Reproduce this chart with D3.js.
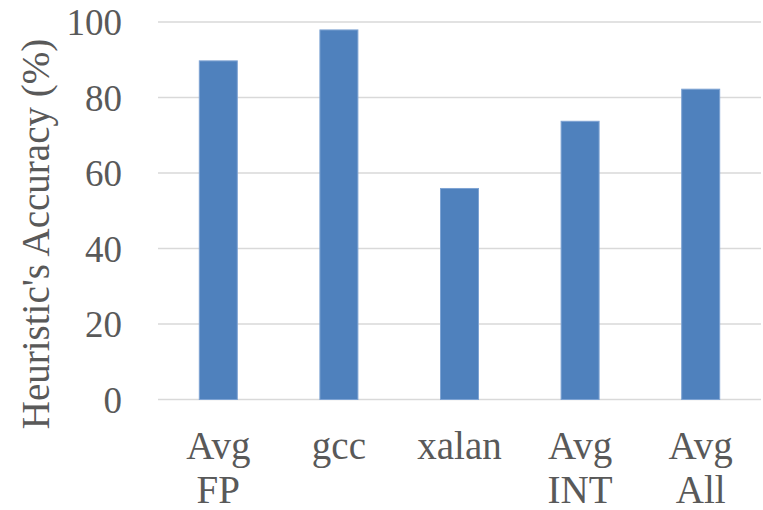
<!DOCTYPE html>
<html>
<head>
<meta charset="utf-8">
<script src="https://cdn.jsdelivr.net/npm/d3@7"></script>
<style>
  html, body { margin: 0; padding: 0; background: #fff; }
  svg { display: block; }
  text { font-family: "Liberation Serif", "Times New Roman", serif; fill: #595959; }
</style>
</head>
<body>
<svg id="chart" width="763" height="510"></svg>
<script>
// Heuristic accuracy per benchmark group
const categories = [["Avg", "FP"], ["gcc"], ["xalan"], ["Avg", "INT"], ["Avg", "All"]];
const accuracy = [89.7, 97.9, 55.9, 73.7, 82.2];
const yTicks = [0, 20, 40, 60, 80, 100];
const yLabel = "Heuristic's Accuracy (%)";

const svg = d3.select("#chart");
const plot = { left: 158, right: 761, top: 22, bottom: 399.5 };
const tickFont = 37;
const labelFont = 39;

const keys = categories.map(c => c.join(" "));

const x = d3.scaleBand()
  .domain(keys)
  .range([plot.left, plot.right])
  .paddingInner(0.685)
  .paddingOuter(0.3425);

const y = d3.scaleLinear().domain([0, 100]).range([plot.bottom, plot.top]);

// Gridlines
svg.append("g")
  .selectAll("line")
  .data(yTicks)
  .join("line")
  .attr("x1", plot.left).attr("x2", plot.right)
  .attr("y1", d => y(d)).attr("y2", d => y(d))
  .attr("stroke", "#d9d9d9")
  .attr("stroke-width", 1.6);

// Y tick labels
const yAxis = d3.axisLeft(y).tickValues(yTicks).tickSize(0).tickPadding(0);
const gy = svg.append("g").attr("transform", "translate(122,0)").call(yAxis);
gy.select(".domain").remove();
gy.selectAll("text")
  .attr("font-size", tickFont)
  .attr("font-family", "Liberation Serif, serif")
  .attr("fill", "#595959")
  .attr("dy", "0.34em");

// Bars
svg.append("g")
  .selectAll("rect")
  .data(accuracy)
  .join("rect")
  .attr("x", (d, i) => x(keys[i]))
  .attr("width", x.bandwidth())
  .attr("y", d => y(d))
  .attr("height", d => y(0) - y(d))
  .attr("fill", "#4f81bd")
  .attr("stroke", "#7ea3d3")
  .attr("stroke-width", 1);

// Category labels (two lines where needed)
const cat = svg.append("g")
  .selectAll("text")
  .data(categories)
  .join("text")
  .attr("text-anchor", "middle")
  .attr("font-size", labelFont)
  .attr("x", (d, i) => x(keys[i]) + x.bandwidth() / 2)
  .attr("y", 459);
cat.selectAll("tspan")
  .data(d => d)
  .join("tspan")
  .attr("x", function () { return d3.select(this.parentNode).attr("x"); })
  .attr("dy", (d, i) => i === 0 ? 0 : 44)
  .text(d => d);

// Y axis title
svg.append("text")
  .attr("transform", "translate(49,234) rotate(-90)")
  .attr("text-anchor", "middle")
  .attr("font-size", labelFont)
  .text(yLabel);
</script>
</body>
</html>
